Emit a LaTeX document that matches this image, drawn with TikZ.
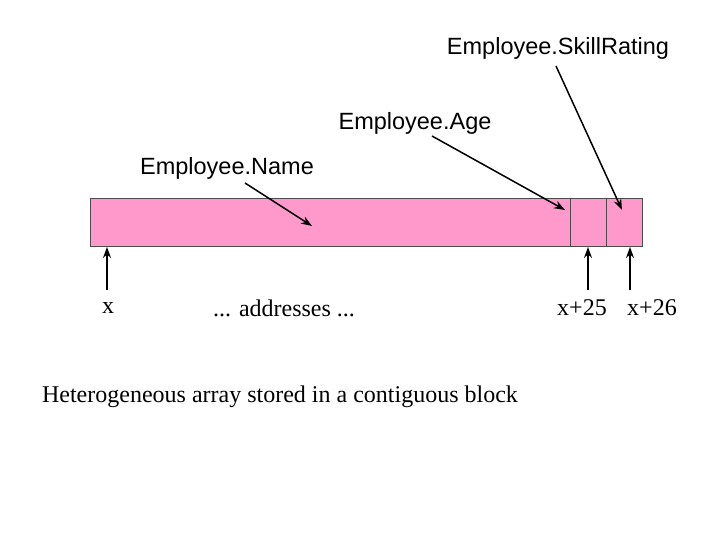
\documentclass[tikz,border=0pt]{standalone}
\usepackage{fontspec}
\usetikzlibrary{arrows.meta}
\setmainfont{Liberation Serif}
\newfontfamily\arial{Liberation Sans}
\definecolor{pinkfill}{HTML}{FF99CC}
\begin{document}
\begin{tikzpicture}[x=1pt,y=-1pt,
  sanslbl/.style={font=\arial\fontsize{23.5}{28}\selectfont,inner sep=0pt},
  seriflbl/.style={font=\fontsize{24}{28}\selectfont,inner sep=0pt},
  arr/.style={-{Stealth[length=11pt,width=8pt]},line width=1.5pt}]
\useasboundingbox (0,0) rectangle (720,540);
\node[draw=black!70,fill=pinkfill,minimum width=552pt,minimum height=48pt,inner sep=0pt,anchor=north west] (blk) at (90,198) {};
\draw[black!70] (570,198) -- (570,246) (606,198) -- (606,246);
\node[sanslbl] (sr) at (558,48) {Employee.SkillRating};
\node[sanslbl] (age) at (415,123) {Employee.Age};
\node[sanslbl] (nm) at (227,168) {Employee.Name};
\coordinate (srS) at (556,66);
\coordinate (srE) at (622,210);
\coordinate (agS) at (432,136);
\coordinate (agE) at (565,210);
\coordinate (nmS) at (245,183);
\coordinate (nmE) at (312,226);
\draw[arr] (srS) -- (srE);
\draw[arr] (agS) -- (agE);
\draw[arr] (nmS) -- (nmE);
\node[seriflbl] (x) at (108,308) {x};
\node[seriflbl] (ad) at (284,308) {... addresses ...};
\node[seriflbl] (x25) at (582,308) {x+25};
\node[seriflbl] (x26) at (652,308) {x+26};
\node[seriflbl] (cap) at (280,397) {Heterogeneous array stored in a contiguous block};
\coordinate (p1) at (107,290); \coordinate (q1) at (107,247);
\coordinate (p2) at (588,290); \coordinate (q2) at (588,247);
\coordinate (p3) at (630,290); \coordinate (q3) at (630,247);
\draw[arr] (p1) -- (q1);
\draw[arr] (p2) -- (q2);
\draw[arr] (p3) -- (q3);
\end{tikzpicture}
\end{document}
